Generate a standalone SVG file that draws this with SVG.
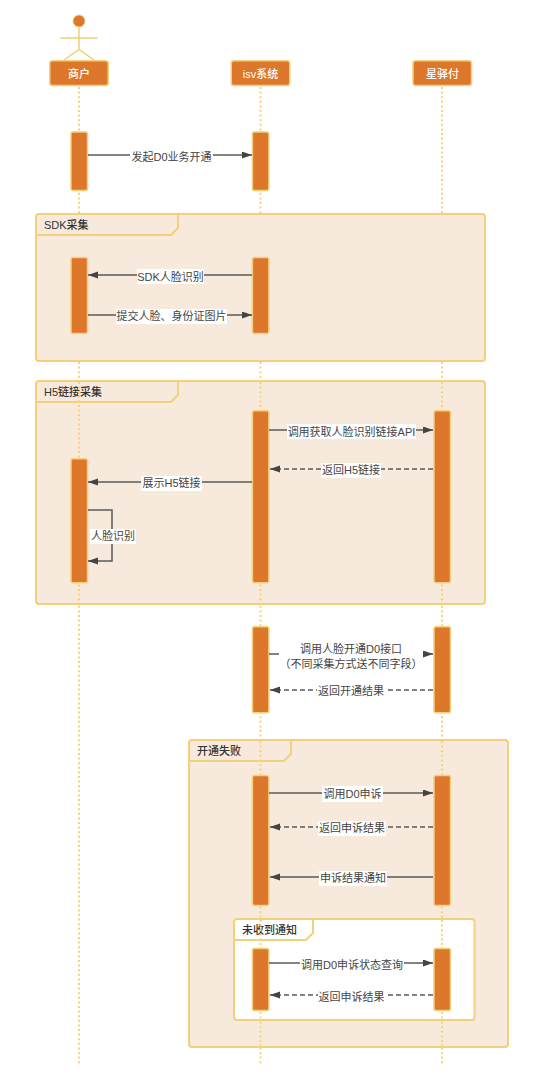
<svg xmlns="http://www.w3.org/2000/svg" width="548" height="1086" viewBox="0 0 548 1086">
<style>
text{font-family:"Liberation Sans","Noto Sans CJK SC",sans-serif;font-size:11px;fill:#444;text-anchor:middle}
.frame{fill:#f7eadc;stroke:#f3d07c;stroke-width:2}
.inner{fill:#fff;stroke:#f3d07c;stroke-width:2}
.tab{fill:none;stroke:#f3d07c;stroke-width:2}
.ft{text-anchor:start;font-weight:500;fill:#333}
.life{stroke:#f8d27a;stroke-width:2;stroke-dasharray:2 2.600;fill:none}
.act{fill:#dd772b;stroke:#f3d07c;stroke-width:1.500}
.box{fill:#dd772b;stroke:#f3d07c;stroke-width:1.500}
.bt{fill:#fff;font-weight:500}
.m{stroke:#5a5a5a;stroke-width:1.500;fill:none;marker-end:url(#a)}
.d{stroke-dasharray:5 3}
.lb{fill:#fff}
.actor{stroke:#f1ce7a;stroke-width:1.500;fill:none}
</style>
<defs><marker id="a" markerUnits="userSpaceOnUse" markerWidth="11" markerHeight="8" refX="10" refY="3.500" orient="auto"><path d="M0 0L10 3.500L0 7z" fill="#444"/></marker></defs>
<rect width="548" height="1086" fill="#fff"/>
<g id="frame-sdk"><rect class="frame" x="36" y="214" width="449" height="147" rx="3"/><path class="tab" d="M36 235H171L178 228V214"/><text class="ft" x="44" y="229">SDK采集</text></g>
<g id="lifelines">
<path class="life" d="M79 87V213M79 362V1066"/><path class="life" d="M260.500 87V213M260.500 362V1066"/><path class="life" d="M442 87V213M442 362V1066"/>
</g>
<g id="frame-h5-bg"><rect class="frame" x="36" y="381" width="449" height="223" rx="3"/><path class="tab" d="M36 402H171L178 395V381"/><text class="ft" x="44" y="396">H5链接采集</text>
<path class="life" d="M79 382V603M260.500 382V603M442 382V603"/></g>
<g id="frame-fail"><rect class="frame" x="189" y="740" width="319" height="307" rx="3"/><path class="tab" d="M189 761H284L291 754V740"/><text class="ft" x="197" y="755">开通失败</text>
<path class="life" d="M260.500 741V1046M442 741V1046"/></g>
<g id="frame-nonotice"><rect class="inner" x="234" y="919" width="240.500" height="101" rx="3"/><path class="tab" d="M234 940H306L313 933V919"/><text class="ft" x="242" y="934">未收到通知</text>
<path class="life" d="M260.500 920V1019M442 920V1019"/></g>
<g id="actor-shop">
<circle cx="79" cy="21" r="6" fill="#dd772b" stroke="#f1ce7a"/>
<path class="actor" d="M79 27V50M60.500 38H97.500M64 60L79 49.500L94 60"/>
<rect class="box" x="49.750" y="60.750" width="58.500" height="24.750" rx="2.500"/>
<text class="bt" x="79" y="78">商户</text>
</g>
<g id="node-isv"><rect class="box" x="231.250" y="60.750" width="58.500" height="24.750" rx="2.500"/><text class="bt" x="260.500" y="78">isv系统</text></g>
<g id="node-xyf"><rect class="box" x="413" y="60.750" width="58.500" height="24.750" rx="2.500"/><text class="bt" x="442.500" y="78">星驿付</text></g>
<g id="activations">
<rect class="act" x="71" y="132" width="16.500" height="58.500" rx="2"/><rect class="act" x="252.400" y="132" width="16.500" height="58.500" rx="2"/>
<rect class="act" x="71" y="257.500" width="16.500" height="76" rx="2"/><rect class="act" x="252.400" y="257.500" width="16.500" height="76" rx="2"/>
<rect class="act" x="252.400" y="410.700" width="16.500" height="172" rx="2"/><rect class="act" x="434" y="410.700" width="16.500" height="172" rx="2"/><rect class="act" x="71" y="458.700" width="16.500" height="124" rx="2"/>
<rect class="act" x="252.400" y="626.800" width="16.500" height="86" rx="2"/><rect class="act" x="434" y="626.800" width="16.500" height="86" rx="2"/>
<rect class="act" x="252.400" y="775.500" width="16.500" height="130" rx="2"/><rect class="act" x="434" y="775.500" width="16.500" height="130" rx="2"/>
<rect class="act" x="252.400" y="948.500" width="16.500" height="62" rx="2"/><rect class="act" x="434" y="948.500" width="16.500" height="62" rx="2"/>
</g>
<g id="connectors">
<path class="m" d="M88 155H252"/>
<path class="m" d="M252 275H88"/>
<path class="m" d="M88 315H252"/>
<path class="m" d="M269 430H433"/>
<path class="m d" d="M433 469H270"/>
<path class="m" d="M252 482H88"/>
<path class="m" d="M88 510H112V561H88"/>
<path class="m" d="M269 654H433"/>
<path class="m d" d="M433 690H270"/>
<path class="m" d="M269 793H433"/>
<path class="m d" d="M433 827H270"/>
<path class="m" d="M433 877H270"/>
<path class="m" d="M269 963H433"/>
<path class="m d" d="M433 995H270"/>
</g>
<g id="labels">
<rect class="lb" x="130" y="148" width="83" height="16"/><text x="171.500" y="161">发起D0业务开通</text>
<rect class="lb" x="137" y="269" width="67" height="15"/><text x="170.500" y="280.500">SDK人脸识别</text>
<rect class="lb" x="116" y="309" width="111" height="15"/><text x="171.500" y="320">提交人脸、身份证图片</text>
<rect class="lb" x="287" y="424" width="129" height="15"/><text x="351.500" y="436">调用获取人脸识别链接API</text>
<rect class="lb" x="321" y="463" width="60" height="15"/><text x="351" y="474">返回H5链接</text>
<rect class="lb" x="141" y="476" width="61" height="15"/><text x="171.500" y="487">展示H5链接</text>
<rect class="lb" x="90" y="529" width="46" height="15"/><text x="113" y="540">人脸识别</text>
<rect class="lb" x="279" y="640" width="144" height="30"/><text x="351" y="653">调用人脸开通D0接口</text><text x="351" y="667.500">（不同采集方式送不同字段）</text>
<rect class="lb" x="317" y="683" width="68" height="16"/><text x="351" y="695">返回开通结果</text>
<rect class="lb" x="322" y="786" width="61" height="16"/><text x="352.500" y="798">调用D0申诉</text>
<rect class="lb" x="318" y="821" width="68" height="15"/><text x="352" y="832">返回申诉结果</text>
<rect class="lb" x="319" y="871" width="68" height="15"/><text x="353" y="882">申诉结果通知</text>
<rect class="lb" x="300" y="957" width="104" height="16"/><text x="352" y="969">调用D0申诉状态查询</text>
<rect class="lb" x="318" y="989" width="68" height="16"/><text x="351.500" y="1001">返回申诉结果</text>
</g>
</svg>
